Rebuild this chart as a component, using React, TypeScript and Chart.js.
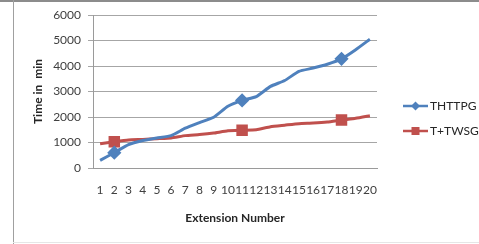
import React, { useEffect, useRef } from "react";
import { Chart, registerables } from "chart.js";

Chart.register(...registerables);

const categories = ["1","2","3","4","5","6","7","8","9","10","11","12","13","14","15","16","17","18","19","20"];
const thttpg = [300, 600, 920, 1080, 1180, 1270, 1560, 1780, 1990, 2420, 2650, 2800, 3200, 3430, 3790, 3920, 4070, 4280, 4640, 5050];
const ttwsg = [950, 1030, 1100, 1120, 1150, 1180, 1270, 1310, 1370, 1460, 1480, 1500, 1620, 1680, 1740, 1760, 1800, 1880, 1950, 2050];
const markerIdx = [1, 10, 17];
const yTicks = [0, 1000, 2000, 3000, 4000, 5000, 6000];

const BLUE = "#4F81BD";
const RED = "#C0504D";
const FONT = "Lato";

const radii = (r: number) => categories.map((_, i) => (markerIdx.includes(i) ? r : 0));

const legendPlugin = {
  id: "customLegend",
  afterDraw(chart: any) {
    const ctx = chart.ctx;
    const items = chart.data.datasets.map((d: any, i: number) => ({
      label: d.label,
      color: d.borderColor,
      style: d.pointStyle,
      y: 106 + i * 25,
    }));
    ctx.save();
    items.forEach((it: any) => {
      ctx.strokeStyle = it.color;
      ctx.fillStyle = it.color;
      ctx.lineWidth = 2.5;
      ctx.beginPath();
      ctx.moveTo(403, it.y);
      ctx.lineTo(428, it.y);
      ctx.stroke();
      const cx = 415.5;
      ctx.beginPath();
      if (it.style === "rectRot") {
        ctx.moveTo(cx, it.y - 4.5);
        ctx.lineTo(cx + 4.5, it.y);
        ctx.lineTo(cx, it.y + 4.5);
        ctx.lineTo(cx - 4.5, it.y);
        ctx.closePath();
        ctx.fill();
      } else {
        ctx.fillRect(cx - 4, it.y - 4, 8, 8);
      }
      ctx.fillStyle = "#262626";
      ctx.font = `12px ${FONT}`;
      ctx.textBaseline = "middle";
      ctx.textAlign = "left";
      ctx.fillText(it.label, 430, it.y);
    });
    ctx.restore();
  },
};

export default function App() {
  const ref = useRef<HTMLCanvasElement>(null);
  useEffect(() => {
    if (!ref.current) return;
    const chart = new Chart(ref.current, {
      type: "line",
      data: {
        labels: categories,
        datasets: [
          {
            label: "THTTPG",
            data: thttpg,
            borderColor: BLUE,
            backgroundColor: BLUE,
            borderWidth: 3,
            pointStyle: "rectRot",
            pointRadius: radii(5),
            pointHoverRadius: 0,
            tension: 0.15,
          },
          {
            label: "T+TWSG",
            data: ttwsg,
            borderColor: RED,
            backgroundColor: RED,
            borderWidth: 3,
            pointStyle: "rect",
            pointRadius: radii(6),
            pointHoverRadius: 0,
            tension: 0.15,
          },
        ],
      },
      options: {
        animation: false,
        responsive: false,
        maintainAspectRatio: false,
        events: [],
        layout: { padding: { left: 20, right: 102, top: 15, bottom: 0 } },
        plugins: { legend: { display: false }, tooltip: { enabled: false } },
        scales: {
          x: {
            offset: true,
            grid: { display: false, drawTicks: false },
            border: { display: true, color: "#9a9a9a", width: 1 },
            ticks: {
              autoSkip: false,
              maxRotation: 0,
              minRotation: 0,
              padding: 15,
              color: "#404040",
              font: { family: FONT, size: 12 },
            },
            title: {
              display: true,
              text: "Extension Number",
              color: "#262626",
              font: { family: FONT, size: 12, weight: "bold" },
              padding: { top: 0, bottom: 19 },
            },
            afterFit(scale: any) {
              scale.height = 76;
            },
          },
          y: {
            min: 0,
            max: 6000,
            afterBuildTicks(scale: any) {
              scale.ticks = yTicks.map((v) => ({ value: v }));
            },
            grid: { color: "#a6a6a6", lineWidth: 1, tickLength: 5 },
            border: { display: true, color: "#9a9a9a", width: 1 },
            ticks: {
              padding: 7,
              color: "#404040",
              font: { family: FONT, size: 12 },
              callback: (v: any) => String(v),
            },
            title: {
              display: true,
              text: "Time in  min",
              color: "#262626",
              font: { family: FONT, size: 12, weight: "bold" },
              padding: { top: 11, bottom: 0 },
            },
            afterFit(scale: any) {
              scale.width = 73;
            },
          },
        },
      },
      plugins: [legendPlugin],
    });
    return () => chart.destroy();
  }, []);

  return (
    <div style={{ position: "absolute", left: 0, top: 0, width: 479, height: 244, background: "#fff", overflow: "hidden" }}>
      <canvas ref={ref} width={479} height={244} style={{ position: "absolute", left: 0, top: 0 }} />
      <div style={{ position: "absolute", left: 0, top: 0, width: 479, height: 2, background: "#8c8c8c" }} />
      <div style={{ position: "absolute", left: 13, top: 0, width: 1, height: 244, background: "#a0a0a0" }} />
      <div style={{ position: "absolute", left: 13, top: 242, width: 466, height: 1, background: "#e6e6e6" }} />
    </div>
  );
}
